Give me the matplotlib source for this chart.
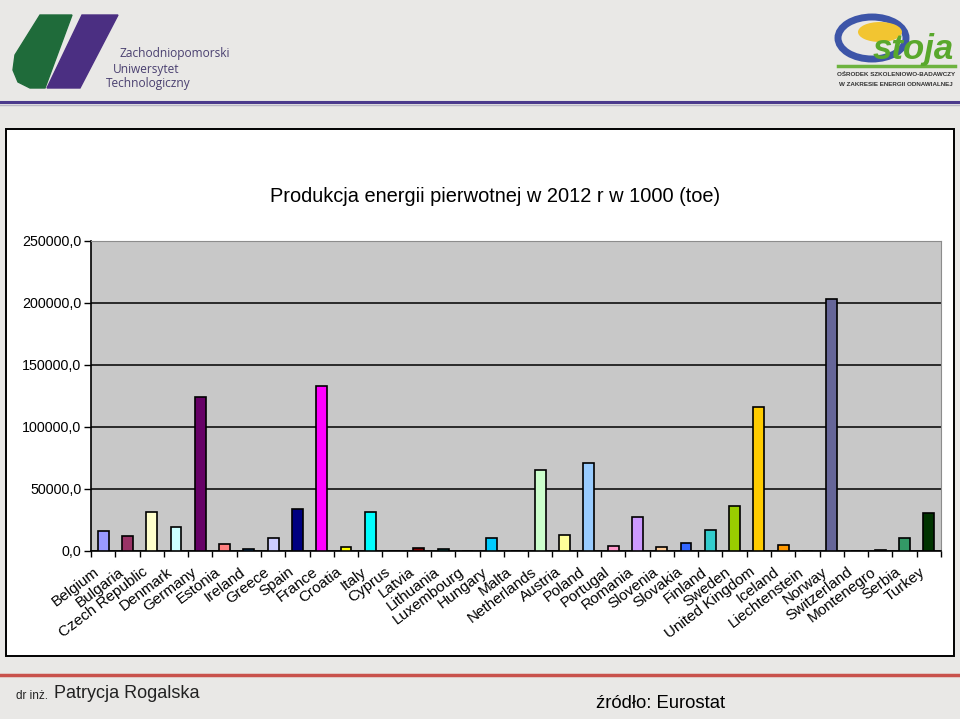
import matplotlib.pyplot as plt
from matplotlib.patches import Rectangle, Polygon, Ellipse
import numpy as np

# dane (1000 toe)
countries = ['Belgium', 'Bulgaria', 'Czech Republic', 'Denmark', 'Germany',
             'Estonia', 'Ireland', 'Greece', 'Spain', 'France', 'Croatia',
             'Italy', 'Cyprus', 'Latvia', 'Lithuania', 'Luxembourg', 'Hungary',
             'Malta', 'Netherlands', 'Austria', 'Poland', 'Portugal', 'Romania',
             'Slovenia', 'Slovakia', 'Finland', 'Sweden', 'United Kingdom',
             'Iceland', 'Liechtenstein', 'Norway', 'Switzerland', 'Montenegro',
             'Serbia', 'Turkey']
values = [15800, 11800, 31600, 19300, 123900,
          5400, 1900, 10200, 33500, 133000, 3500,
          31600, 0, 2700, 1900, 0, 10700,
          0, 65400, 12600, 71000, 4300, 27600,
          3500, 6200, 16900, 36200, 116000,
          5100, 0, 203000, 0, 800,
          10700, 30800]
colors = ['#9999FF', '#993366', '#FFFFCC', '#CCFFFF', '#660066',
          '#FF8080', '#0066CC', '#CCCCFF', '#000080', '#FF00FF', '#FFFF00',
          '#00FFFF', '#800080', '#800000', '#008080', '#0000FF', '#00CCFF',
          '#CCFFFF', '#CCFFCC', '#FFFF99', '#99CCFF', '#FF99CC', '#CC99FF',
          '#FFCC99', '#3366FF', '#33CCCC', '#99CC00', '#FFCC00',
          '#FF9900', '#FF6600', '#666699', '#969696', '#003366',
          '#339966', '#003300']
title = 'Produkcja energii pierwotnej w 2012 r w 1000 (toe)'

W, H = 960, 719
plt.rcParams['font.family'] = ['Liberation Sans', 'DejaVu Sans']


def fx(x):
    return x / W


def fy(y):
    return 1 - y / H


fig = plt.figure(figsize=(9.6, 7.19), dpi=100)
fig.patch.set_facecolor('#e9e8e6')

# naglowek
fig.add_artist(plt.Line2D([0, 1], [fy(102), fy(102)], color='#4b3a8c', lw=2.2))
fig.add_artist(plt.Line2D([0, 1], [fy(104.5), fy(104.5)], color='#b8b6c4', lw=1))
green = [(40, 15), (72, 15), (45, 88), (30, 88), (18, 82), (13, 70), (15, 55)]
fig.add_artist(Polygon([(fx(a), fy(b)) for a, b in green], closed=True,
                       color='#1f6b3a', transform=fig.transFigure))
purple = [(82, 15), (118, 15), (80, 88), (47, 88)]
fig.add_artist(Polygon([(fx(a), fy(b)) for a, b in purple], closed=True,
                       color='#4b2f82', transform=fig.transFigure))
zut_col = '#4a4070'
fig.text(fx(120), fy(53), 'Zachodniopomorski', fontsize=8.6, color=zut_col,
         family='Open Sans', va='center')
fig.text(fx(113), fy(69), 'Uniwersytet', fontsize=8.6, color=zut_col,
         family='Open Sans', va='center')
fig.text(fx(106), fy(84), 'Technologiczny', fontsize=8.6, color=zut_col,
         family='Open Sans', va='center')

# logo Ostoja
fig.add_artist(Ellipse((fx(872), fy(38)), 68 / W, 42 / H, angle=0,
                       facecolor='none', edgecolor='#3d55a8', lw=5,
                       transform=fig.transFigure))
fig.add_artist(Ellipse((fx(880), fy(32)), 44 / W, 20 / H,
                       facecolor='#f2c531', edgecolor='none',
                       transform=fig.transFigure))
fig.text(fx(913), fy(50), 'stoja', fontsize=25, color='#59a82c',
         fontweight='bold', style='italic', ha='center', va='center')
fig.add_artist(plt.Line2D([fx(838), fx(955)], [fy(66), fy(66)],
                          color='#6db33f', lw=2.5))
fig.text(fx(896), fy(75), 'OŚRODEK SZKOLENIOWO-BADAWCZY', fontsize=4.5,
         color='#333333', fontweight='bold', ha='center', va='center')
fig.text(fx(896), fy(85), 'W ZAKRESIE ENERGII ODNAWIALNEJ', fontsize=4.5,
         color='#333333', fontweight='bold', ha='center', va='center')

# ramka wykresu
fig.add_artist(Rectangle((fx(6), fy(656)), 948 / W, 527 / H,
                         facecolor='white', edgecolor='black', lw=1.4,
                         transform=fig.transFigure, zorder=-5))

ax = fig.add_axes([fx(91), fy(551), 850 / W, 310 / H])
ax.set_facecolor('#c8c8c8')
x = np.arange(len(countries))
ax.bar(x, values, width=0.45, color=colors, edgecolor='black', lw=1.2, zorder=3)
ax.set_xlim(-0.5, len(countries) - 0.5)
ax.set_ylim(0, 250000)
ax.set_yticks(np.arange(0, 250001, 50000))
ax.set_yticklabels(['%d,0' % v for v in np.arange(0, 250001, 50000)], fontsize=10.3)
ax.yaxis.grid(True, color='black', lw=1.1, zorder=1)
ax.set_axisbelow(True)
# etykiety przesuniete w lewo jak w Excelu
ax.set_xticks(x - 0.4)
ax.set_xticklabels(countries, rotation=37, ha='right', va='top',
                   rotation_mode='anchor', fontsize=11)
ax.set_xticks(np.arange(-0.5, len(countries)), minor=True)
ax.tick_params(axis='x', which='major', length=0, pad=10)
ax.tick_params(axis='x', which='minor', length=4, width=1, direction='out')
ax.tick_params(axis='y', length=5, width=1, direction='out', pad=2)
for s in ['top', 'right']:
    ax.spines[s].set_color('#8c8c8c')
for s in ['left', 'bottom']:
    ax.spines[s].set_color('black')
    ax.spines[s].set_linewidth(1.2)

fig.text(fx(495), fy(197), title, fontsize=14.4, ha='center', va='center')

# stopka
fig.add_artist(plt.Line2D([0, 1], [fy(674.5), fy(674.5)], color='#c9524c', lw=2.5))
fig.text(fx(16), fy(696), 'dr inż.', fontsize=8.5, va='center', color='#222222')
fig.text(fx(54), fy(694), 'Patrycja Rogalska', fontsize=13, va='center',
         color='#222222')
fig.text(fx(596), fy(704), 'źródło: Eurostat', fontsize=13.3, va='center',
         color='black')

fig.savefig('out.png', dpi=100, facecolor=fig.get_facecolor())
